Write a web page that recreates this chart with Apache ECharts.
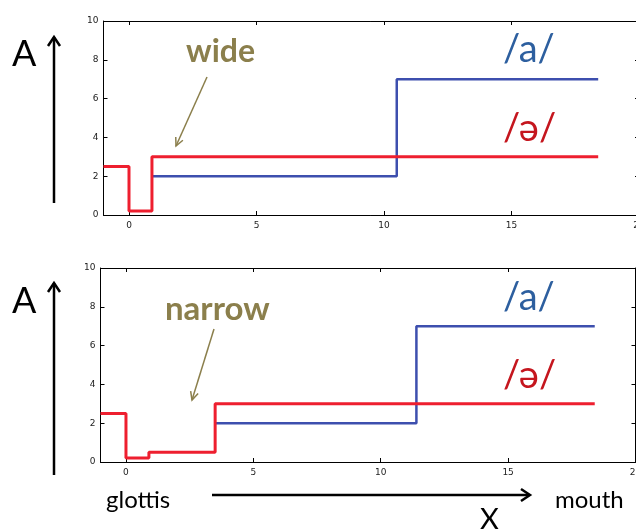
<!DOCTYPE html>
<html>
<head>
<meta charset="utf-8">
<script src="https://cdn.jsdelivr.net/npm/echarts@6/dist/echarts.min.js"></script>
<style>
html,body{margin:0;padding:0;background:#fff;}
#c{width:636px;height:532px;}
</style>
</head>
<body>
<div id="c"></div>
<script>
// ---- data ----
var xTicks = [0, 5, 10, 15, 20];
var yTicks = [0, 2, 4, 6, 8, 10];
// wide panel (top)
var wideSchwaEdges = [-1, 0, 0.9, 18.4];
var wideSchwaLevels = [2.5, 0.2, 3];
var wideAEdges = [0.9, 10.5, 18.4];
var wideALevels = [2, 7];
// narrow panel (bottom)
var narrowSchwaEdges = [-1, 0, 0.9, 3.5, 18.4];
var narrowSchwaLevels = [2.5, 0.2, 0.5, 3];
var narrowAEdges = [3.5, 11.4, 18.4];
var narrowALevels = [2, 7];

function steps(edges, levels) {
  var out = [];
  for (var i = 0; i < edges.length; i++) {
    var lv = i < levels.length ? levels[i] : levels[levels.length - 1];
    out.push([edges[i], lv]);
  }
  return out;
}

var BLUE = '#3d4fae';
var RED = '#ee1f2f';
var OLIVE = '#8b7f4c';
var TXTBLUE = '#2d5f9f';
var TXTRED = '#c5161e';

var chart = echarts.init(document.getElementById('c'), null, {renderer: 'canvas'});

function xAx(gi, pos) {
  var main = pos === 'bottom';
  return {
    type: 'value', gridIndex: gi, position: pos, min: -1, max: 20,
    axisLine: {show: true, onZero: false, lineStyle: {color: '#000', width: 1}},
    axisTick: {show: true, inside: true, length: 4, customValues: xTicks, lineStyle: {color: '#000'}},
    axisLabel: {show: main, customValues: xTicks, fontSize: 9, color: '#222', fontFamily: 'DejaVu Sans', margin: 6},
    splitLine: {show: false}
  };
}
function yAx(gi, pos) {
  var main = pos === 'left';
  return {
    type: 'value', gridIndex: gi, position: pos, min: 0, max: 10, interval: 2,
    axisLine: {show: true, onZero: false, lineStyle: {color: '#000', width: 1}},
    axisTick: {show: true, inside: true, length: 4, lineStyle: {color: '#000'}},
    axisLabel: {show: main, fontSize: 9, color: '#222', fontFamily: 'DejaVu Sans', margin: 5},
    splitLine: {show: false}
  };
}

function arrowUp(x, y1, y2) {
  return [
    {type: 'line', shape: {x1: x, y1: y1, x2: x, y2: y2}, style: {stroke: '#000', lineWidth: 2.5}},
    {type: 'polyline', shape: {points: [[x - 6, y2 + 9], [x, y2], [x + 6, y2 + 9]]}, style: {stroke: '#000', lineWidth: 2.5, fill: null}}
  ];
}
function thinArrow(x1, y1, x2, y2) {
  var a = Math.atan2(y2 - y1, x2 - x1);
  var L = 9, s = 0.45;
  return [
    {type: 'line', shape: {x1: x1, y1: y1, x2: x2, y2: y2}, style: {stroke: OLIVE, lineWidth: 1.5}},
    {type: 'polyline', shape: {points: [
      [x2 - L * Math.cos(a - s), y2 - L * Math.sin(a - s)], [x2, y2],
      [x2 - L * Math.cos(a + s), y2 - L * Math.sin(a + s)]]}, style: {stroke: OLIVE, lineWidth: 1.5, fill: null}}
  ];
}
function txt(x, y, t, size, color, weight, family) {
  return {type: 'text', x: x, y: y, style: {text: t, fontSize: size, fill: color, fontWeight: weight || 'normal',
    fontFamily: family || 'Lato', textVerticalAlign: 'top'}};
}

var graphics = [].concat(
  [txt(12, 36, 'A', 36, '#000', 'normal', 'Lato')],
  arrowUp(54, 203, 37),
  [txt(12, 283, 'A', 36, '#000', 'normal', 'Lato')],
  arrowUp(54, 475, 283),
  [txt(186, 36, 'wide', 32, OLIVE, 'bold')],
  thinArrow(207, 77, 176, 146),
  [txt(165, 293, 'narrow', 33, OLIVE, 'bold')],
  thinArrow(214, 329, 192, 400),
  [txt(503, 31, '/a/', 38, TXTBLUE)],
  [txt(503, 110, '/ə/', 38, TXTRED)],
  [txt(503, 279, '/a/', 38, TXTBLUE)],
  [txt(503, 357, '/ə/', 38, TXTRED)],
  [txt(106, 488, 'glottis', 24, '#000')],
  [{type: 'line', shape: {x1: 212, y1: 495, x2: 529, y2: 495}, style: {stroke: '#000', lineWidth: 2.5}},
   {type: 'polyline', shape: {points: [[521, 489], [530, 495], [521, 501]]}, style: {stroke: '#000', lineWidth: 2.5, fill: null}}],
  [txt(555, 488, 'mouth', 24, '#000')],
  [txt(480, 505, 'X', 29, '#000')]
);

var option = {
  animation: false,
  backgroundColor: '#fff',
  grid: [
    {left: 103.5, top: 21, width: 535.5, height: 194, show: false, containLabel: false, outerBoundsMode: 'none'},
    {left: 100.5, top: 268, width: 535, height: 194, show: false, containLabel: false, outerBoundsMode: 'none'}
  ],
  xAxis: [xAx(0, 'bottom'), xAx(0, 'top'), xAx(1, 'bottom'), xAx(1, 'top')],
  yAxis: [yAx(0, 'left'), yAx(0, 'right'), yAx(1, 'left'), yAx(1, 'right')],
  series: [
    {type: 'line', xAxisIndex: 0, yAxisIndex: 0, step: 'end', data: steps(wideAEdges, wideALevels),
      symbol: 'none', lineStyle: {color: BLUE, width: 2.5}, z: 2},
    {type: 'line', xAxisIndex: 0, yAxisIndex: 0, step: 'end', data: steps(wideSchwaEdges, wideSchwaLevels),
      symbol: 'none', lineStyle: {color: RED, width: 3}, z: 3},
    {type: 'line', xAxisIndex: 2, yAxisIndex: 2, step: 'end', data: steps(narrowAEdges, narrowALevels),
      symbol: 'none', lineStyle: {color: BLUE, width: 2.5}, z: 2},
    {type: 'line', xAxisIndex: 2, yAxisIndex: 2, step: 'end', data: steps(narrowSchwaEdges, narrowSchwaLevels),
      symbol: 'none', lineStyle: {color: RED, width: 3}, z: 3}
  ],
  graphic: graphics
};
chart.setOption(option);
</script>
</body>
</html>
